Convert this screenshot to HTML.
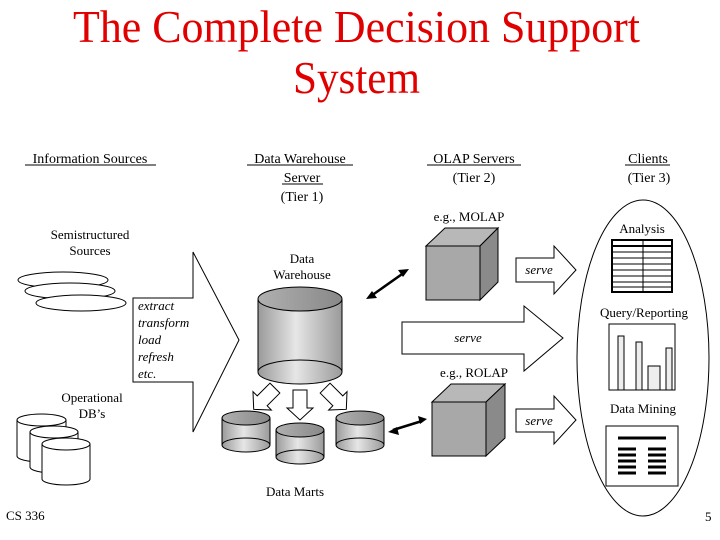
<!DOCTYPE html>
<html><head><meta charset="utf-8"><style>
html,body{margin:0;padding:0;background:#fff;}
svg{display:block;font-family:"Liberation Serif",serif;}
</style></head><body>
<svg width="720" height="540" viewBox="0 0 720 540" xmlns="http://www.w3.org/2000/svg">
<defs>
<linearGradient id="cg" x1="0" x2="1" y1="0" y2="0">
<stop offset="0" stop-color="#9a9a9a"/><stop offset="0.45" stop-color="#e6e6e6"/><stop offset="1" stop-color="#9a9a9a"/>
</linearGradient>
<linearGradient id="ct" x1="0" x2="1" y1="0" y2="0">
<stop offset="0" stop-color="#b0b0b0"/><stop offset="1" stop-color="#888"/>
</linearGradient>
</defs>
<g fill="#e00000" font-size="45">
<text x="73" y="42" textLength="567" lengthAdjust="spacingAndGlyphs">The Complete Decision Support</text>
<text x="293" y="93" textLength="127" lengthAdjust="spacingAndGlyphs">System</text>
</g>
<g font-size="14" fill="#000" text-anchor="middle">
<text x="90" y="163">Information Sources</text>
<line x1="25" y1="165" x2="156" y2="165" stroke="#000"/>
<text x="300" y="163">Data Warehouse</text>
<line x1="247" y1="165" x2="353" y2="165" stroke="#000"/>
<text x="302" y="182">Server</text>
<line x1="282" y1="184" x2="323" y2="184" stroke="#000"/>
<text x="302" y="201">(Tier 1)</text>
<text x="474" y="163">OLAP Servers</text>
<line x1="427" y1="165" x2="521" y2="165" stroke="#000"/>
<text x="474" y="182">(Tier 2)</text>
<text x="648" y="163">Clients</text>
<line x1="625" y1="165" x2="670" y2="165" stroke="#000"/>
<text x="649" y="182">(Tier 3)</text>
<text x="90" y="239" font-size="13">Semistructured</text>
<text x="90" y="255" font-size="13">Sources</text>
<text x="302" y="263" font-size="13">Data</text>
<text x="302" y="279" font-size="13">Warehouse</text>
<text x="92" y="402" font-size="13">Operational</text>
<text x="92" y="418" font-size="13">DB’s</text>
<text x="295" y="496" font-size="13">Data Marts</text>
<text x="469" y="221" font-size="13">e.g., MOLAP</text>
<text x="474" y="377" font-size="13">e.g., ROLAP</text>
<text x="642" y="233" font-size="13">Analysis</text>
<text x="644" y="317" font-size="13">Query/Reporting</text>
<text x="643" y="413" font-size="13">Data Mining</text>
</g>
<text x="6" y="520" font-size="13">CS 336</text>
<text x="705" y="521" font-size="13">5</text>
<g fill="#fff" stroke="#000">
<ellipse cx="63" cy="280" rx="45" ry="8"/>
<ellipse cx="70" cy="291" rx="45" ry="8"/>
<ellipse cx="81" cy="303" rx="45" ry="8"/>
</g>
<g fill="#fff" stroke="#000">
<path d="M17 420 V456 A24.5 6 0 0 0 66 456 V420"/><ellipse cx="41.5" cy="420" rx="24.5" ry="6"/>
<path d="M30 432 V467 A24 6 0 0 0 78 467 V432"/><ellipse cx="54" cy="432" rx="24" ry="6"/>
<path d="M42 444 V479 A24 6 0 0 0 90 479 V444"/><ellipse cx="66" cy="444" rx="24" ry="6"/>
</g>
<path d="M133 298 H193 V252 L239 340 L193 432 V382 H133 Z" fill="#fff" stroke="#000"/>
<g font-size="13" font-style="italic">
<text x="138" y="310">extract</text><text x="138" y="327">transform</text><text x="138" y="344">load</text><text x="138" y="361">refresh</text><text x="138" y="378">etc.</text>
</g>
<path d="M258 299 V372 A42 12 0 0 0 342 372 V299" fill="url(#cg)" stroke="#000"/>
<ellipse cx="300" cy="299" rx="42" ry="12" fill="url(#ct)" stroke="#000"/>
<path d="M258 372 A42 12 0 0 1 342 372" fill="none" stroke="#000"/>
<g stroke="#000">
<path d="M222 418 V445 A24 7 0 0 0 270 445 V418" fill="url(#cg)"/><ellipse cx="246" cy="418" rx="24" ry="7" fill="url(#ct)"/><path d="M222 445 A24 7 0 0 1 270 445" fill="none"/>
<path d="M276 430 V457 A24 7 0 0 0 324 457 V430" fill="url(#cg)"/><ellipse cx="300" cy="430" rx="24" ry="7" fill="url(#ct)"/><path d="M276 457 A24 7 0 0 1 324 457" fill="none"/>
<path d="M336 418 V445 A24 7 0 0 0 384 445 V418" fill="url(#cg)"/><ellipse cx="360" cy="418" rx="24" ry="7" fill="url(#ct)"/><path d="M336 445 A24 7 0 0 1 384 445" fill="none"/>
</g>
<g fill="#fff" stroke="#000">
<path d="M293 390 H307 V408 H313 L300 420 L287 408 H293 Z"/>
<g transform="rotate(45 265 398)"><path d="M258 384 H272 V402 H278 L265 414 L252 402 H258 Z"/></g>
<g transform="rotate(-45 335 398)"><path d="M328 384 H342 V402 H348 L335 414 L322 402 H328 Z"/></g>
</g>
<g stroke="#000" stroke-width="2.5" fill="#000">
<line x1="371" y1="296" x2="405" y2="272"/>
<line x1="393" y1="430" x2="422" y2="421"/>
</g>
<g fill="#000">
<path d="M366 299 L377 298 L372 291 Z"/><path d="M409 269 L398 270 L403 277 Z"/>
<path d="M388 432 L397 427 L399 435 Z"/><path d="M427 419 L418 416 L420 424 Z"/>
</g>
<g stroke="#000">
<path d="M426 246 L445 228 H498 L480 246 Z" fill="#b8b8b8"/>
<path d="M480 246 L498 228 V282 L480 300 Z" fill="#8a8a8a"/>
<rect x="426" y="246" width="54" height="54" fill="#a8a8a8"/>
<path d="M432 402 L451 384 H505 L486 402 Z" fill="#b8b8b8"/>
<path d="M486 402 L505 384 V438 L486 456 Z" fill="#8a8a8a"/>
<rect x="432" y="402" width="54" height="54" fill="#a8a8a8"/>
</g>
<g fill="#fff" stroke="#000">
<path d="M516 258 H554 V246 L576 270 L554 294 V282 H516 Z"/>
<path d="M402 322 H524 V306 L563 338 L524 371 V354 H402 Z"/>
<path d="M516 409 H554 V396 L576 420 L554 444 V432 H516 Z"/>
</g>
<g font-size="13" font-style="italic" text-anchor="middle">
<text x="539" y="274">serve</text>
<text x="468" y="342">serve</text>
<text x="539" y="425">serve</text>
</g>
<ellipse cx="643" cy="358" rx="66" ry="158" fill="none" stroke="#000"/>
<g stroke="#000">
<rect x="612" y="240" width="60" height="52" fill="#fff" stroke-width="2"/>
<line x1="643" y1="240" x2="643" y2="292"/>
<line x1="612" y1="246" x2="672" y2="246" stroke-width="2"/>
<line x1="612" y1="252" x2="672" y2="252"/><line x1="612" y1="258" x2="672" y2="258"/>
<line x1="612" y1="264" x2="672" y2="264"/><line x1="612" y1="270" x2="672" y2="270"/>
<line x1="612" y1="276" x2="672" y2="276"/><line x1="612" y1="282" x2="672" y2="282"/>
<line x1="612" y1="287" x2="672" y2="287"/>
</g>
<g stroke="#000">
<rect x="609" y="324" width="66" height="66" fill="#fff"/>
<rect x="618" y="336" width="6" height="54" fill="#eee"/>
<rect x="636" y="342" width="6" height="48" fill="#eee"/>
<rect x="648" y="366" width="12" height="24" fill="#eee"/>
<rect x="666" y="348" width="6" height="42" fill="#eee"/>
</g>
<rect x="606" y="426" width="72" height="60" fill="#fff" stroke="#000"/>
<g stroke="#000" stroke-width="3">
<line x1="618" y1="438" x2="666" y2="438"/>
<line x1="618" y1="449" x2="636" y2="449"/><line x1="648" y1="449" x2="666" y2="449"/>
<line x1="618" y1="455" x2="636" y2="455"/><line x1="648" y1="455" x2="666" y2="455"/>
<line x1="618" y1="461" x2="636" y2="461"/><line x1="648" y1="461" x2="666" y2="461"/>
<line x1="618" y1="467" x2="636" y2="467"/><line x1="648" y1="467" x2="666" y2="467"/>
<line x1="618" y1="473" x2="636" y2="473"/><line x1="648" y1="473" x2="666" y2="473"/>
</g>
</svg>
</body></html>
